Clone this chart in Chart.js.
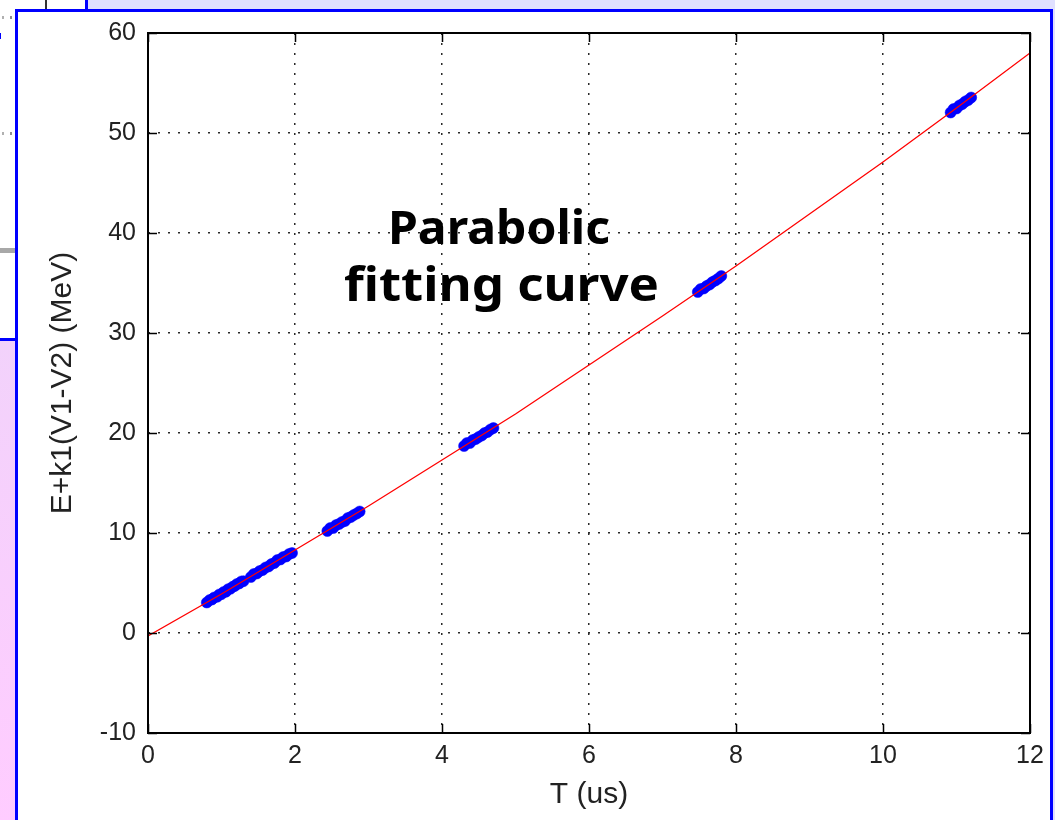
<!DOCTYPE html>
<html>
<head>
<meta charset="utf-8">
<script src="https://cdn.jsdelivr.net/npm/chart.js@4/dist/chart.umd.min.js"></script>
<style>
  html, body { margin: 0; padding: 0; }
  body { width: 1055px; height: 820px; position: relative; overflow: hidden; background: #ffffff; }
  .abs { position: absolute; }
  #panel { left: 15px; top: 9px; width: 1032px; height: 900px; border: 3px solid #0000ff; background: #ffffff; }
  #chart { position: absolute; left: 0; top: 0; }
</style>
</head>
<body>
<div class="abs" style="left:88px;top:0;width:967px;height:12px;background:#e0e0ff"></div>
<div class="abs" style="left:85px;top:0;width:3px;height:12px;background:#0000ff"></div>
<div class="abs" style="left:45px;top:0;width:2px;height:10px;background:#333333"></div>
<div class="abs" style="left:2px;top:16px;width:2px;height:3px;background:#b0b0b0"></div>
<div class="abs" style="left:10px;top:16px;width:2px;height:3px;background:#909090"></div>
<div class="abs" style="left:0;top:33px;width:1px;height:6px;background:#0000ff"></div>
<div class="abs" style="left:2px;top:132px;width:2px;height:3px;background:#b0b0b0"></div>
<div class="abs" style="left:10px;top:132px;width:2px;height:3px;background:#909090"></div>
<div class="abs" style="left:0;top:248px;width:16px;height:5px;background:#a8a8a8"></div>
<div class="abs" style="left:0;top:338px;width:16px;height:482px;border-top:3px solid #0000ff;background:linear-gradient(#f2d2fb,#ffccff)"></div>
<div class="abs" id="panel"></div>
<div class="abs" style="left:1053px;top:0;width:2px;height:820px;background:#e0e0ff"></div>
<canvas id="chart" width="1055" height="820"></canvas>
<script>
// ---- data ----
const xTicks = [0, 2, 4, 6, 8, 10, 12];
const yTicks = [-10, 0, 10, 20, 30, 40, 50, 60];

// parabolic fitting curve (red)
const fitT = [0, 1, 2, 3, 4, 5, 6, 7, 8, 9, 10, 11, 12];
const fitE = [-0.3, 3.9, 8.3, 12.7, 17.3, 21.9, 26.8, 31.7, 36.7, 41.9, 47.1, 52.5, 58.0];

// measured points (blue clusters)
const measuredT = [
  0.80, 0.84, 0.87, 0.90, 0.94, 0.97, 1.00, 1.03, 1.06, 1.09, 1.12, 1.15, 1.18, 1.21, 1.24, 1.27, 1.30,
  1.40, 1.44, 1.48, 1.52, 1.56, 1.60, 1.64, 1.68, 1.72, 1.76, 1.80, 1.84, 1.88, 1.92, 1.96,
  2.44, 2.48, 2.52, 2.56, 2.60, 2.64, 2.68, 2.72, 2.76, 2.80, 2.84, 2.88,
  4.30, 4.34, 4.38, 4.42, 4.46, 4.50, 4.54, 4.58, 4.62, 4.66, 4.70,
  7.48, 7.52, 7.56, 7.60, 7.64, 7.68, 7.72, 7.76, 7.80,
  10.92, 10.96, 11.00, 11.04, 11.08, 11.12, 11.16, 11.20
];
const measuredE = [
  3.05, 3.30, 3.35, 3.55, 3.62, 3.85, 3.88, 4.10, 4.12, 4.38, 4.42, 4.62, 4.70, 4.90, 4.95, 5.15, 5.18,
  5.60, 5.90, 5.95, 6.20, 6.30, 6.55, 6.65, 6.90, 7.00, 7.30, 7.35, 7.60, 7.65, 7.90, 8.00,
  10.20, 10.50, 10.50, 10.80, 10.90, 11.10, 11.20, 11.50, 11.60, 11.80, 11.95, 12.15,
  18.70, 19.00, 19.00, 19.30, 19.40, 19.60, 19.75, 20.00, 20.10, 20.35, 20.50,
  34.10, 34.40, 34.45, 34.70, 34.85, 35.10, 35.25, 35.45, 35.70,
  52.05, 52.40, 52.45, 52.75, 52.90, 53.15, 53.30, 53.55
];

const annotationLines = ['Parabolic', 'fitting curve'];
const xTitle = 'T (us)';
const yTitle = 'E+k1(V1-V2) (MeV)';

// ---- chart ----
const TICK_FONT = { family: '"Liberation Sans", Arial, sans-serif', size: 25 };
const TITLE_FONT = { family: '"Liberation Sans", Arial, sans-serif', size: 30 };

const fitData = fitT.map((t, i) => ({ x: t, y: fitE[i] }));
const measData = measuredT.map((t, i) => ({ x: t, y: measuredE[i] }));

const boxPlugin = {
  id: 'matlabBox',
  afterDraw(chart) {
    const { ctx, chartArea: a, scales } = chart;
    ctx.save();
    ctx.strokeStyle = '#000';
    ctx.lineWidth = 1.5;
    const L = 9;
    xTicks.forEach(v => {
      const px = Math.round(scales.x.getPixelForValue(v)) + 0.5;
      ctx.beginPath();
      ctx.moveTo(px, a.bottom); ctx.lineTo(px, a.bottom - L);
      ctx.moveTo(px, a.top); ctx.lineTo(px, a.top + L);
      ctx.stroke();
    });
    yTicks.forEach(v => {
      const py = Math.round(scales.y.getPixelForValue(v)) + 0.5;
      ctx.beginPath();
      ctx.moveTo(a.left, py); ctx.lineTo(a.left + L, py);
      ctx.moveTo(a.right, py); ctx.lineTo(a.right - L, py);
      ctx.stroke();
    });
    ctx.lineWidth = 2;
    ctx.strokeRect(Math.round(a.left), Math.round(a.top), Math.round(a.right - a.left), Math.round(a.bottom - a.top));

    ctx.fillStyle = '#000';
    ctx.textBaseline = 'alphabetic';
    ctx.textAlign = 'left';
    ctx.font = 'bold 46px "Comic Sans MS", "Noto Sans", "DejaVu Sans", sans-serif';
    const specs = [
      { text: annotationLines[0], left: 388, width: 222, base: 244 },
      { text: annotationLines[1], left: 344, width: 315, base: 301 }
    ];
    specs.forEach(s => {
      const w = ctx.measureText(s.text).width;
      ctx.save();
      ctx.translate(s.left, s.base);
      ctx.scale(s.width / w, 1);
      ctx.fillText(s.text, 0, 0);
      ctx.restore();
    });
    ctx.restore();
  }
};

new Chart(document.getElementById('chart'), {
  type: 'scatter',
  data: {
    datasets: [
      {
        label: 'fit',
        type: 'line',
        data: fitData,
        borderColor: '#ff0000',
        borderWidth: 1.3,
        pointRadius: 0,
        fill: false,
        tension: 0
      },
      {
        label: 'measured',
        data: measData,
        pointRadius: 5.5,
        pointStyle: 'circle',
        backgroundColor: '#0000ff',
        borderColor: '#0000ff',
        borderWidth: 0.5
      }
    ]
  },
  options: {
    responsive: false,
    animation: false,
    devicePixelRatio: 1,
    layout: { padding: { left: 20, right: 25, top: 33, bottom: 0 } },
    plugins: { legend: { display: false }, tooltip: { enabled: false } },
    scales: {
      x: {
        type: 'linear',
        min: 0, max: 12,
        afterBuildTicks: s => { s.ticks = xTicks.map(v => ({ value: v })); },
        afterFit: s => { s.height = 87; },
        ticks: { color: '#222222', font: TICK_FONT, padding: 8, maxRotation: 0 },
        grid: { color: '#2a2a2a', lineWidth: 1.5, drawTicks: false },
        border: { display: false, dash: [2, 8] },
        title: { display: true, text: xTitle, color: '#222222', font: TITLE_FONT, padding: { top: 0, bottom: 7 } }
      },
      y: {
        type: 'linear',
        min: -10, max: 60,
        afterBuildTicks: s => { s.ticks = yTicks.map(v => ({ value: v })); },
        afterFit: s => { s.width = 128; },
        ticks: { color: '#222222', font: TICK_FONT, padding: 12 },
        grid: { color: '#2a2a2a', lineWidth: 1.5, drawTicks: false },
        border: { display: false, dash: [2, 8] },
        title: { display: true, text: yTitle, color: '#222222', font: TITLE_FONT, padding: { top: 25, bottom: 0 } }
      }
    }
  },
  plugins: [boxPlugin]
});
</script>
</body>
</html>
